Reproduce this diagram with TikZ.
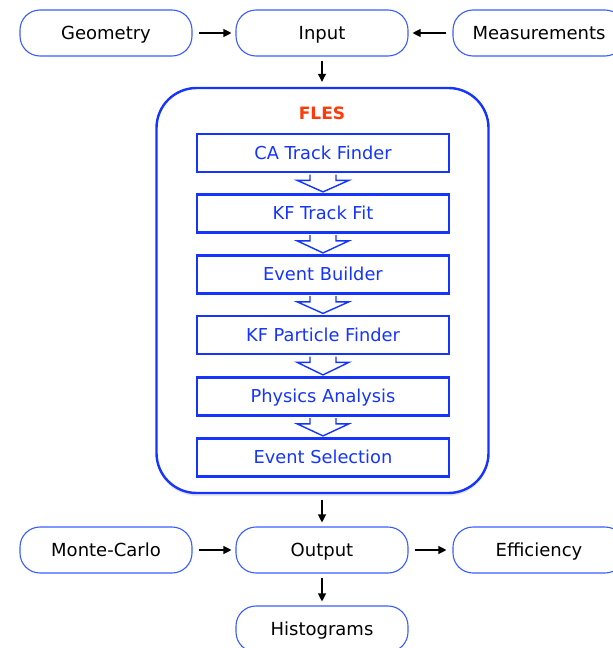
\documentclass[tikz,border=0pt]{standalone}
\usepackage{fontspec}
\setmainfont{DejaVu Sans}
\usetikzlibrary{calc,arrows.meta,shadows}
\definecolor{thinblue}{HTML}{3A5CFF}
\definecolor{deepblue}{HTML}{1535FF}
\definecolor{flesred}{HTML}{FF3A0A}
\tikzset{
  outbox/.style={draw=thinblue, line width=1.1pt, rounded corners=20pt, minimum width=172pt, minimum height=46pt, inner sep=0pt, text height=13pt, text depth=0pt, font=\fontsize{18}{22}\selectfont, text=black},
  stepbox/.style={draw=deepblue, line width=2.6pt, minimum width=252pt, minimum height=38pt, inner sep=0pt, text height=12.8pt, text depth=0pt, font=\fontsize{17.8}{21}\selectfont, text=deepblue},
  arr/.style={-{Triangle[length=8pt,width=8pt]}, line width=1.1pt, black},
  hollow/.style={draw=deepblue, line width=1.4pt, fill=white, line join=miter}
}
\begin{document}
\begin{tikzpicture}[x=1pt,y=-1pt]
\useasboundingbox (0,0) rectangle (613,648);
% FLES container
\node[draw=deepblue, line width=2.4pt, rounded corners=40pt, minimum width=332pt, minimum height=405pt, fill=white,
  drop shadow={shadow xshift=0pt, shadow yshift=-3pt, opacity=0.18}] (fles) at (322.5,290.5) {};
\node[font=\fontsize{17}{20}\selectfont\bfseries, text=flesred, text height=12.5pt, text depth=0pt] (flesl) at (322,113) {FLES};
% top row
\node[outbox] (geo) at (106,33) {Geometry};
\node[outbox] (inp) at (322,33) {Input};
\node[outbox] (meas) at (539,33) {Measurements};
% steps
\node[stepbox] (ca) at (323,153) {CA Track Finder};
\node[stepbox] (kf) at (323,213.5) {KF Track Fit};
\node[stepbox] (eb) at (323,274.5) {Event Builder};
\node[stepbox] (pf) at (323,335) {KF Particle Finder};
\node[stepbox] (pa) at (323,396.5) {Physics Analysis};
\node[stepbox] (es) at (323,457.5) {Event Selection};
\foreach \a/\b in {ca/kf,kf/eb,eb/pf,pf/pa,pa/es}{
  \draw[hollow] ($(\a.south)+(-13,1.3)$) -- ($(\a.south)+(-13,7)$) -- ($(\a.south)+(-26,7)$)
     -- ($(\b.north)+(0,-1.3)$) -- ($(\a.south)+(26,7)$) -- ($(\a.south)+(13,7)$) -- ($(\a.south)+(13,1.3)$);
}
% bottom rows
\node[outbox] (mc) at (106,550) {Monte-Carlo};
\node[outbox] (out) at (322,550) {Output};
\node[outbox] (eff) at (539,550) {Efficiency};
\node[outbox] (hist) at (322,629) {Histograms};
% connectors
\draw[arr, shorten <=6pt, shorten >=4pt] (geo) -- (inp);
\draw[arr, shorten <=6pt, shorten >=4pt] (meas) -- (inp);
\draw[arr, shorten <=4pt, shorten >=5pt] (inp) -- (inp |- fles.north);
\draw[arr, shorten <=6pt, shorten >=4pt] (fles.south -| out) -- (out);
\draw[arr, shorten <=6pt, shorten >=4pt] (mc) -- (out);
\draw[arr, shorten <=6pt, shorten >=6pt] (out) -- (eff);
\draw[arr, shorten <=4pt, shorten >=4pt] (out) -- (hist);
\end{tikzpicture}
\end{document}
